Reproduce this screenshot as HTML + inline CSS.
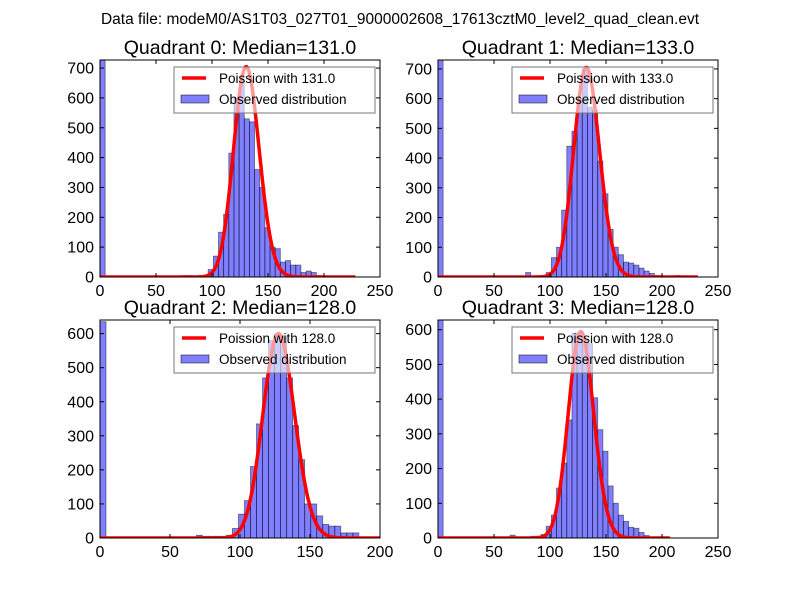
<!DOCTYPE html>
<html><head><meta charset="utf-8"><style>
html,body{margin:0;padding:0;background:#fff;}
svg{display:block;font-family:"Liberation Sans","DejaVu Sans",sans-serif;}
</style></head><body>
<svg id="fig" width="800" height="600" viewBox="0 0 800 600">
<rect width="800" height="600" fill="#fff"/>
<text x="400" y="24" font-size="15.5" text-anchor="middle">Data file: modeM0/AS1T03_027T01_9000002608_17613cztM0_level2_quad_clean.evt</text>
</svg>
<script>
// ---- data ----
const quadNames = ["Quadrant 0: Median=131.0","Quadrant 1: Median=133.0","Quadrant 2: Median=128.0","Quadrant 3: Median=128.0"];
const medians = [131, 133, 128, 128];
const binWidths = [4.6, 4.6, 4.3, 4.6];
const counts0 = [730,0,0,0,0,0,0,0,0,0,0,0,0,0,0,0,5,5,0,5,5,25,70,150,210,415,600,660,530,520,360,300,165,100,95,50,55,40,40,15,20,15,5,0,0,0,0,0,0,0];
const counts1 = [730,0,0,0,0,0,0,0,0,0,0,0,0,0,0,0,0,15,0,0,0,15,65,100,225,440,490,600,700,570,560,390,280,160,100,75,50,47,40,30,20,12,5,0,0,0,5,0,0,0];
const counts2 = [635,0,0,0,0,0,0,0,0,0,0,0,0,0,0,0,8,5,5,5,5,8,28,70,110,210,335,470,580,600,590,470,330,230,100,100,65,40,35,35,15,15,15,0,0];
const counts3 = [628,0,0,0,0,0,0,0,0,0,0,0,0,0,8,0,0,0,5,5,10,34,66,144,216,340,590,585,570,560,404,312,250,150,100,66,48,31,28,16,7,0,0,0,0];
const allCounts = [counts0, counts1, counts2, counts3];
const curveScales = [20225, 20380, 17016, 16874];
const curveMax = [228, 232, 200, 207];
const xMaxes = [250, 250, 200, 250];
const yMaxes = [727, 730, 640, 628];
const xTicks0 = [0,50,100,150,200,250];
const xTicks2 = [0,50,100,150,200];
const yTicksTop = [0,100,200,300,400,500,600,700];
const yTicksBot = [0,100,200,300,400,500,600];
const xTickSets = [xTicks0, xTicks0, xTicks2, xTicks0];
const yTickSets = [yTicksTop, yTicksTop, yTicksBot, yTicksBot];

// ---- layout ----
const panels = [{x:100,y:60,w:280,h:217},{x:438,y:60,w:280,h:217},{x:100,y:320,w:280,h:218},{x:438,y:320,w:280,h:218}];
const NS = "http://www.w3.org/2000/svg";
const fig = document.getElementById('fig');
function mk(tag, attrs, parent){const e=document.createElementNS(NS,tag);for(const k in attrs)e.setAttribute(k,attrs[k]);(parent||fig).appendChild(e);return e;}
function lnPois(k, mu){
  let lg=0; if(k>1){ lg = k*Math.log(k)-k+0.5*Math.log(2*Math.PI*k)+1/(12*k);}
  return k*Math.log(mu)-mu-lg;
}
for(let q=0;q<4;q++){
  const p=panels[q];
  const g=mk('g',{});
  
  
  const xs=v=>p.x+v/xMaxes[q]*p.w;
  const ys=v=>p.y+p.h-v/yMaxes[q]*p.h;
  const cp=mk('clipPath',{id:'cp'+q},g);
  mk('rect',{x:p.x,y:p.y,width:p.w,height:p.h},cp);
  const plot=mk('g',{'clip-path':'url(#cp'+q+')'},g);
  // bars
  const cs=allCounts[q];
  for(let i=0;i<cs.length;i++){
    if(cs[i]<=0) continue;
    const x0=xs(i*binWidths[q]), x1=xs((i+1)*binWidths[q]);
    const b=mk('rect',{x:x0,y:ys(cs[i]),width:x1-x0,height:ys(0)-ys(cs[i]),fill:'rgba(0,0,255,0.5)',stroke:'rgba(0,0,0,0.5)','stroke-width':0.8},plot);
    
    
  }
  // poisson curve (on top)
  let d='';
  for(let k=0;k<=curveMax[q];k++){
    const v=curveScales[q]*Math.exp(lnPois(k,medians[q]));
    d+=(k?'L':'M')+xs(k).toFixed(2)+','+ys(v).toFixed(2);
  }
  const curve=mk('path',{d:d,fill:'none',stroke:'#ff0000','stroke-width':3.5,'stroke-linejoin':'round'},plot);
  
  
  // frame
  mk('rect',{x:p.x,y:p.y,width:p.w,height:p.h,fill:'none',stroke:'#000','stroke-width':1},g);
  // ticks
  xTickSets[q].forEach(t=>{
    const x=xs(t);
    mk('line',{x1:x,y1:p.y+p.h,x2:x,y2:p.y+p.h-4,stroke:'#000'},g);
    mk('line',{x1:x,y1:p.y,x2:x,y2:p.y+4,stroke:'#000'},g);
    const tl=mk('text',{x:x,y:p.y+p.h+19,'font-size':16,'text-anchor':'middle'},g);
    tl.textContent=t;
    
    
  });
  yTickSets[q].forEach(t=>{
    const y=ys(t);
    mk('line',{x1:p.x,y1:y,x2:p.x+4,y2:y,stroke:'#000'},g);
    mk('line',{x1:p.x+p.w,y1:y,x2:p.x+p.w-4,y2:y,stroke:'#000'},g);
    const tl=mk('text',{x:p.x-6,y:y+5.5,'font-size':16,'text-anchor':'end'},g);
    tl.textContent=t;
    
    
  });
  // title
  const tt=mk('text',{x:p.x+p.w/2,y:p.y-6,'font-size':19.5,'text-anchor':'middle'},g);
  tt.textContent=quadNames[q];
  
  
  // legend
  const lg=mk('g',{},g);
  
  
  const lx=p.x+74, ly=p.y+7;
  mk('rect',{x:lx,y:ly,width:201,height:46,fill:'rgba(255,255,255,0.6)',stroke:'#777','stroke-width':1},lg);
  mk('line',{x1:lx+8,y1:ly+11,x2:lx+32,y2:ly+11,stroke:'#ff0000','stroke-width':3.5},lg);
  const t1=mk('text',{x:lx+45,y:ly+16,'font-size':13.5},lg);
  t1.textContent='Poission with '+medians[q].toFixed(1);
  
  
  mk('rect',{x:lx+7,y:ly+28,width:28,height:8,fill:'rgba(0,0,255,0.5)',stroke:'rgba(0,0,0,0.5)'},lg);
  const t2=mk('text',{x:lx+45,y:ly+37,'font-size':13.5},lg);
  t2.textContent='Observed distribution';
  
  
}
</script>
</body></html>
